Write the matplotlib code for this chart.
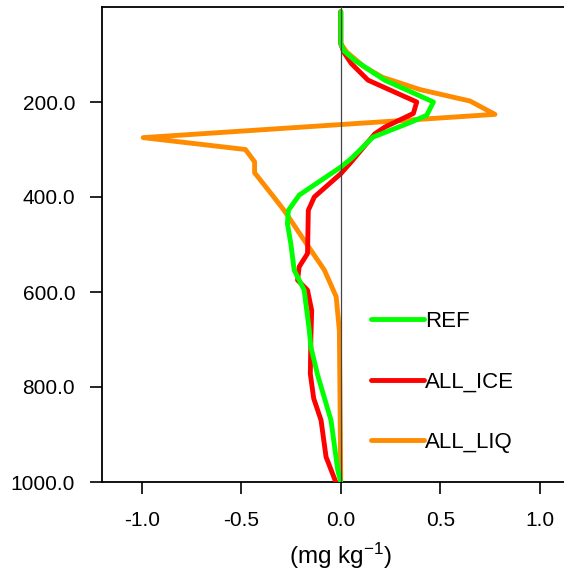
import matplotlib
matplotlib.use("Agg")
import matplotlib.pyplot as plt

plt.rcParams['font.family'] = ['Liberation Sans', 'DejaVu Sans']
plt.rcParams['mathtext.default'] = 'regular'

# Vertical profiles (pressure in hPa, value in mg/kg)
ref_p = [10, 77, 92, 112, 154, 200, 228, 242, 274, 319, 337, 396, 428, 456, 498, 554, 596, 681, 716, 775, 870, 975, 1000]
ref_x = [0.0, 0.0, 0.015, 0.069, 0.221, 0.466, 0.432, 0.356, 0.162, 0.053, 0.0, -0.209, -0.263, -0.268, -0.251, -0.234, -0.184, -0.158, -0.150, -0.116, -0.049, -0.015, 0.0]

ice_p = [10, 77, 95, 119, 154, 200, 224, 253, 267, 326, 351, 400, 428, 519, 547, 575, 596, 639, 695, 772, 824, 870, 947, 1000]
ice_x = [0.0, 0.0, 0.015, 0.053, 0.137, 0.382, 0.365, 0.221, 0.171, 0.053, 0.0, -0.133, -0.163, -0.167, -0.209, -0.217, -0.167, -0.146, -0.150, -0.153, -0.136, -0.099, -0.074, -0.025]

liq_p = [10, 77, 95, 126, 148, 174, 198, 226, 275, 300, 326, 349, 396, 428, 491, 554, 610, 681, 1000]
liq_x = [0.0, 0.0, 0.03, 0.118, 0.21, 0.40, 0.65, 0.775, -0.993, -0.479, -0.433, -0.433, -0.344, -0.285, -0.184, -0.082, -0.023, -0.007, 0.0]

series_names = ["REF", "ALL_ICE", "ALL_LIQ"]
series_colors = ["#00ff00", "#ff0000", "#ff8c00"]

x_ticks = [-1.0, -0.5, 0.0, 0.5, 1.0]
y_ticks = [200, 400, 600, 800, 1000]

fig = plt.figure(figsize=(5.64, 5.72), dpi=100)
ax = fig.add_axes([102 / 564, 90 / 572, 477.5 / 564, 475 / 572])

line_kw = dict(lw=3.5, solid_capstyle='round', solid_joinstyle='round')
h_liq, = ax.plot(liq_x, liq_p, color=series_colors[2], label=series_names[2], zorder=2, **line_kw)
h_ice, = ax.plot(ice_x, ice_p, color=series_colors[1], label=series_names[1], zorder=3, **line_kw)
h_ref, = ax.plot(ref_x, ref_p, color=series_colors[0], label=series_names[0], zorder=4, **line_kw)

# zero reference line
ax.axvline(0.0, color='#444444', lw=0.9, zorder=5)

ax.set_xlim(-1.2, 1.2)
ax.set_ylim(1000, 0)
ax.set_xticks(x_ticks)
ax.set_xticklabels([f"{v:.1f}" for v in x_ticks])
ax.set_yticks(y_ticks)
ax.set_yticklabels([f"{v:.1f}" for v in y_ticks])
ax.tick_params(axis='both', direction='out', length=8.8, width=1.2, labelsize=15)
ax.tick_params(axis='y', pad=10.5)
ax.tick_params(axis='x', pad=12)
for s in ax.spines.values():
    s.set_linewidth(1.3)

ax.set_xlabel('(mg kg$^{-1}$)', fontsize=17.5, labelpad=8)

ax.legend(handles=[h_ref, h_ice, h_liq], loc='upper left',
          bbox_to_anchor=(371 / 564, (572 - 311) / 572), bbox_transform=fig.transFigure,
          frameon=False, fontsize=16, handlelength=2.4, handletextpad=0.05,
          labelspacing=1.78, borderpad=0, borderaxespad=0)

fig.savefig("out.png", dpi=100)
